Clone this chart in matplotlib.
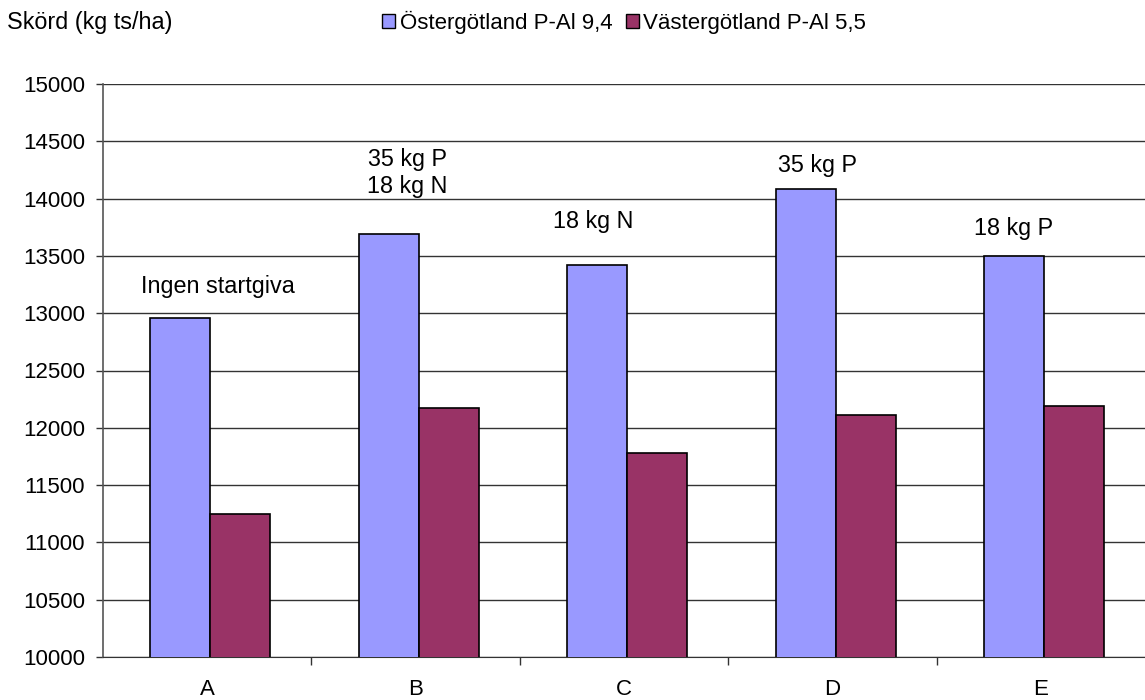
import numpy as np
import matplotlib.pyplot as plt
from matplotlib.patches import Patch

plt.rcParams['font.family'] = ['Liberation Sans', 'DejaVu Sans']

categories = ['A', 'B', 'C', 'D', 'E']
ostergotland = [12960, 13690, 13420, 14080, 13500]
vastergotland = [11250, 12170, 11780, 12110, 12190]
series_names = ['Östergötland P-Al 9,4', 'Västergötland P-Al 5,5']
notes = ['Ingen startgiva', '35 kg P\n18 kg N', '18 kg N', '35 kg P', '18 kg P']
note_pos = [(0.05, 13229), (0.96, 14225), (1.85, 13796), (2.93, 14293), (3.87, 13735)]
yticks = list(range(10000, 15001, 500))

c_ost = '#9999ff'
c_vast = '#993366'
fs = 16

fig = plt.figure(figsize=(11.45, 7.0), dpi=100)
ax = fig.add_axes([103 / 1145, 43 / 700, 1042 / 1145, 573 / 700])

x = np.arange(len(categories)) + 0.015
w = 0.288
ax.bar(x - w / 2, ostergotland, w, color=c_ost, edgecolor='black', linewidth=1.2, zorder=3)
ax.bar(x + w / 2, vastergotland, w, color=c_vast, edgecolor='black', linewidth=1.2, zorder=3)

ax.set_xlim(-0.5, 4.5)
ax.set_ylim(10000, 15000)
ax.set_yticks(yticks)
ax.set_yticklabels([str(v) for v in yticks], fontsize=fs)
ax.yaxis.grid(True, color='#333333', linewidth=1.0, zorder=0)

ax.set_xticks(np.arange(len(categories)))
ax.set_xticklabels(categories, fontsize=fs)
ax.tick_params(axis='x', length=0, pad=16)
ax.set_xticks(np.arange(0.5, 4.5, 1), minor=True)
ax.tick_params(axis='x', which='minor', length=6, color='#333333', width=1)
ax.tick_params(axis='y', length=5, color='#333333', width=1, direction='out', pad=8)

for s in ['top', 'right']:
    ax.spines[s].set_visible(False)
ax.spines['left'].set_color('#555555')
ax.spines['bottom'].set_color('#333333')
ax.spines['left'].set_linewidth(1.2)

for t, (xp, yp) in zip(notes, note_pos):
    ax.text(xp, yp, t, ha='center', va='center', fontsize=16.8, linespacing=1.25)

fig.text(7 / 1145, 1 - 22 / 700, 'Skörd (kg ts/ha)', ha='left', va='center', fontsize=16.8)
handles = [Patch(facecolor=c_ost, edgecolor='black'), Patch(facecolor=c_vast, edgecolor='black')]
fig.legend(handles, series_names, loc='center', bbox_to_anchor=(624 / 1145, 1 - 22 / 700),
           ncol=2, frameon=False, fontsize=fs, handlelength=0.6, handleheight=0.6,
           handletextpad=0.2, columnspacing=0.6)

fig.savefig('out.png', dpi=100)
